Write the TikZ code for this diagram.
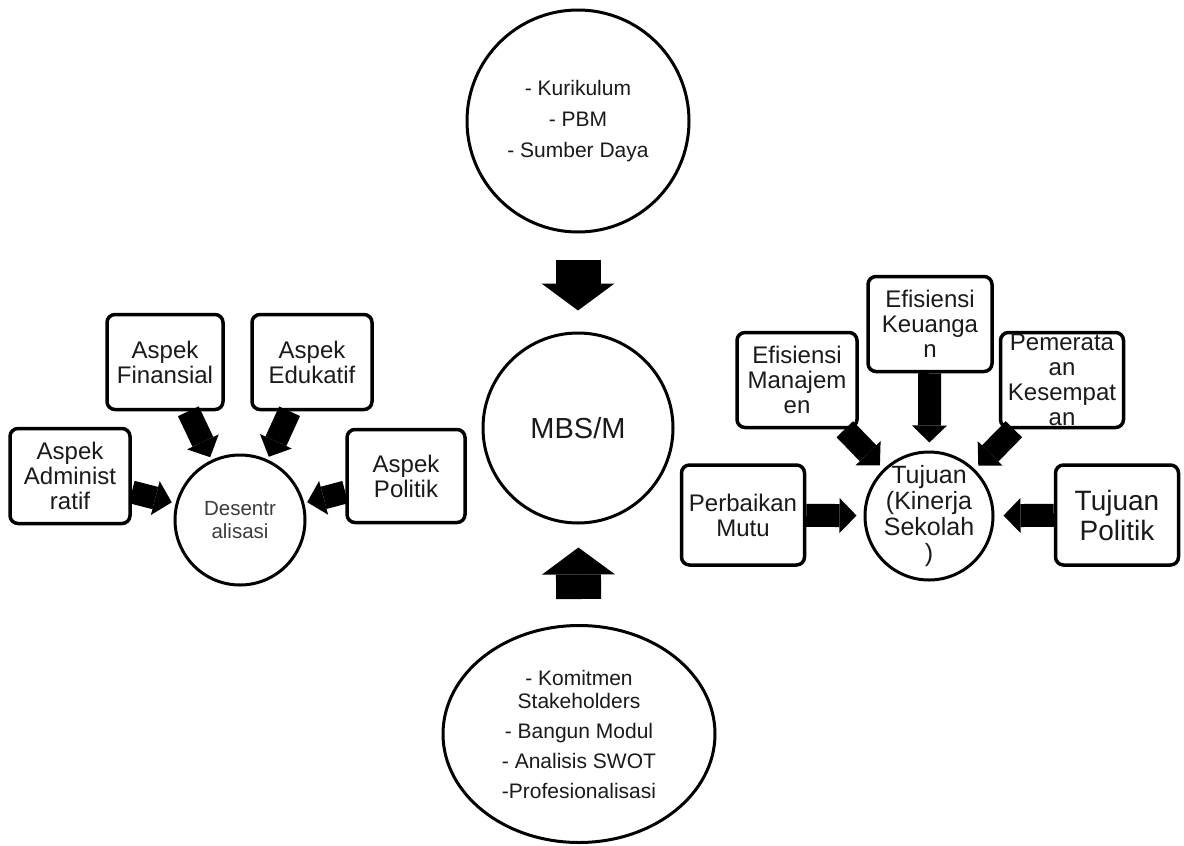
\documentclass[tikz,border=0pt]{standalone}
\usepackage{fontspec}
\setmainfont{Liberation Sans}
\usepackage{xcolor}
\usetikzlibrary{arrows.meta, positioning, shapes.geometric}
\definecolor{inkgray}{HTML}{1A1A1A}
\definecolor{softgray}{HTML}{3C3C3C}

\begin{document}
\begin{tikzpicture}[
    x=1pt, y=-1pt,
    font=\fontsize{24}{25}\selectfont, text=inkgray,
    box/.style={rectangle, rounded corners=8pt, draw=black, line width=3.5pt,
                fill=white, align=center, inner sep=0pt, minimum width=120pt, minimum height=95pt},
    ring/.style={circle, draw=black, line width=3pt, fill=white, align=center, inner sep=0pt},
    bigarrow/.style={-{Triangle[width=73pt, length=27pt, line width=0pt]}, line width=45pt, draw=black},
    arrow/.style={-{Triangle[width=35pt, length=17pt, line width=0pt]}, line width=23pt, draw=black},
    itemfont/.style={font=\fontsize{21}{23}\selectfont}
  ]
    \useasboundingbox (0,0) rectangle (1184,846);

    \node[ring, minimum size=222pt, itemfont] (inputs) at (578,121)
      {- Kurikulum\\[8pt]- PBM\\[8pt]- Sumber Daya};
    \node[ring, minimum size=190pt, font=\fontsize{29}{32}\selectfont] (mbs) at (578,428) {MBS/M};
    \node[ellipse, draw=black, line width=3pt, fill=white, align=center, inner sep=-4pt,
          minimum width=272pt, minimum height=217pt, itemfont] (support) at (579,734)
      {- Komitmen\\Stakeholders\\[7pt]- Bangun Modul\\[7pt]- Analisis SWOT\\[7pt]-Profesionalisasi};

    \node[ring, minimum size=130pt, font=\fontsize{20.5}{23}\selectfont, text=softgray] (desen) at (240,520)
      {Desentr\\alisasi};
    \node[box] (admin)     at (70,476)  {Aspek\\Administ\\ratif};
    \node[box, minimum width=116pt] (finansial) at (165,362) {Aspek\\Finansial};
    \node[box] (edukatif)  at (312,362) {Aspek\\Edukatif};
    \node[box, minimum width=118pt, minimum height=93pt] (politik) at (406,476) {Aspek\\Politik};

    \node[ring, minimum size=128pt, inner sep=-10pt, font=\fontsize{25}{26}\selectfont] (tujuan) at (929,516)
      {Tujuan\\(Kinerja\\Sekolah\\)};
    \node[box, minimum width=124pt] (keuangan)  at (930,324)  {Efisiensi\\Keuanga\\n};
    \node[box] (manajemen) at (797,380)  {Efisiensi\\Manajem\\en};
    \node[box, minimum width=123pt, inner ysep=-12pt] (pemerataan) at (1062,380)
      {Pemerata\\an\\Kesempat\\an};
    \node[box, minimum width=123pt, minimum height=100pt] (mutu) at (743,515) {Perbaikan\\Mutu};
    \node[box, minimum width=123pt, minimum height=100pt, font=\fontsize{28}{30}\selectfont]
      (tujuanpolitik) at (1117,515) {Tujuan\\Politik};

    \draw[bigarrow, shorten <=26pt, shorten >=21pt] (inputs) -- (mbs);
    \draw[bigarrow, shorten <=25pt, shorten >=23pt] (support) -- (mbs);

    \draw[arrow, shorten >=3pt] (finansial) -- (desen);
    \draw[arrow, shorten >=3pt] (edukatif) -- (desen);
    \draw[arrow, shorten >=4pt] (admin) -- (desen);
    \draw[arrow, shorten >=3pt] (politik) -- (desen);

    \draw[arrow, shorten >=8pt] (keuangan) -- (tujuan);
    \draw[arrow, shorten >=5pt] (manajemen) -- (tujuan);
    \draw[arrow, shorten >=5pt] (pemerataan) -- (tujuan);
    \draw[arrow, shorten >=7pt] (mutu) -- (tujuan);
    \draw[arrow, shorten >=9pt] (tujuanpolitik) -- (tujuan);
\end{tikzpicture}
\end{document}
